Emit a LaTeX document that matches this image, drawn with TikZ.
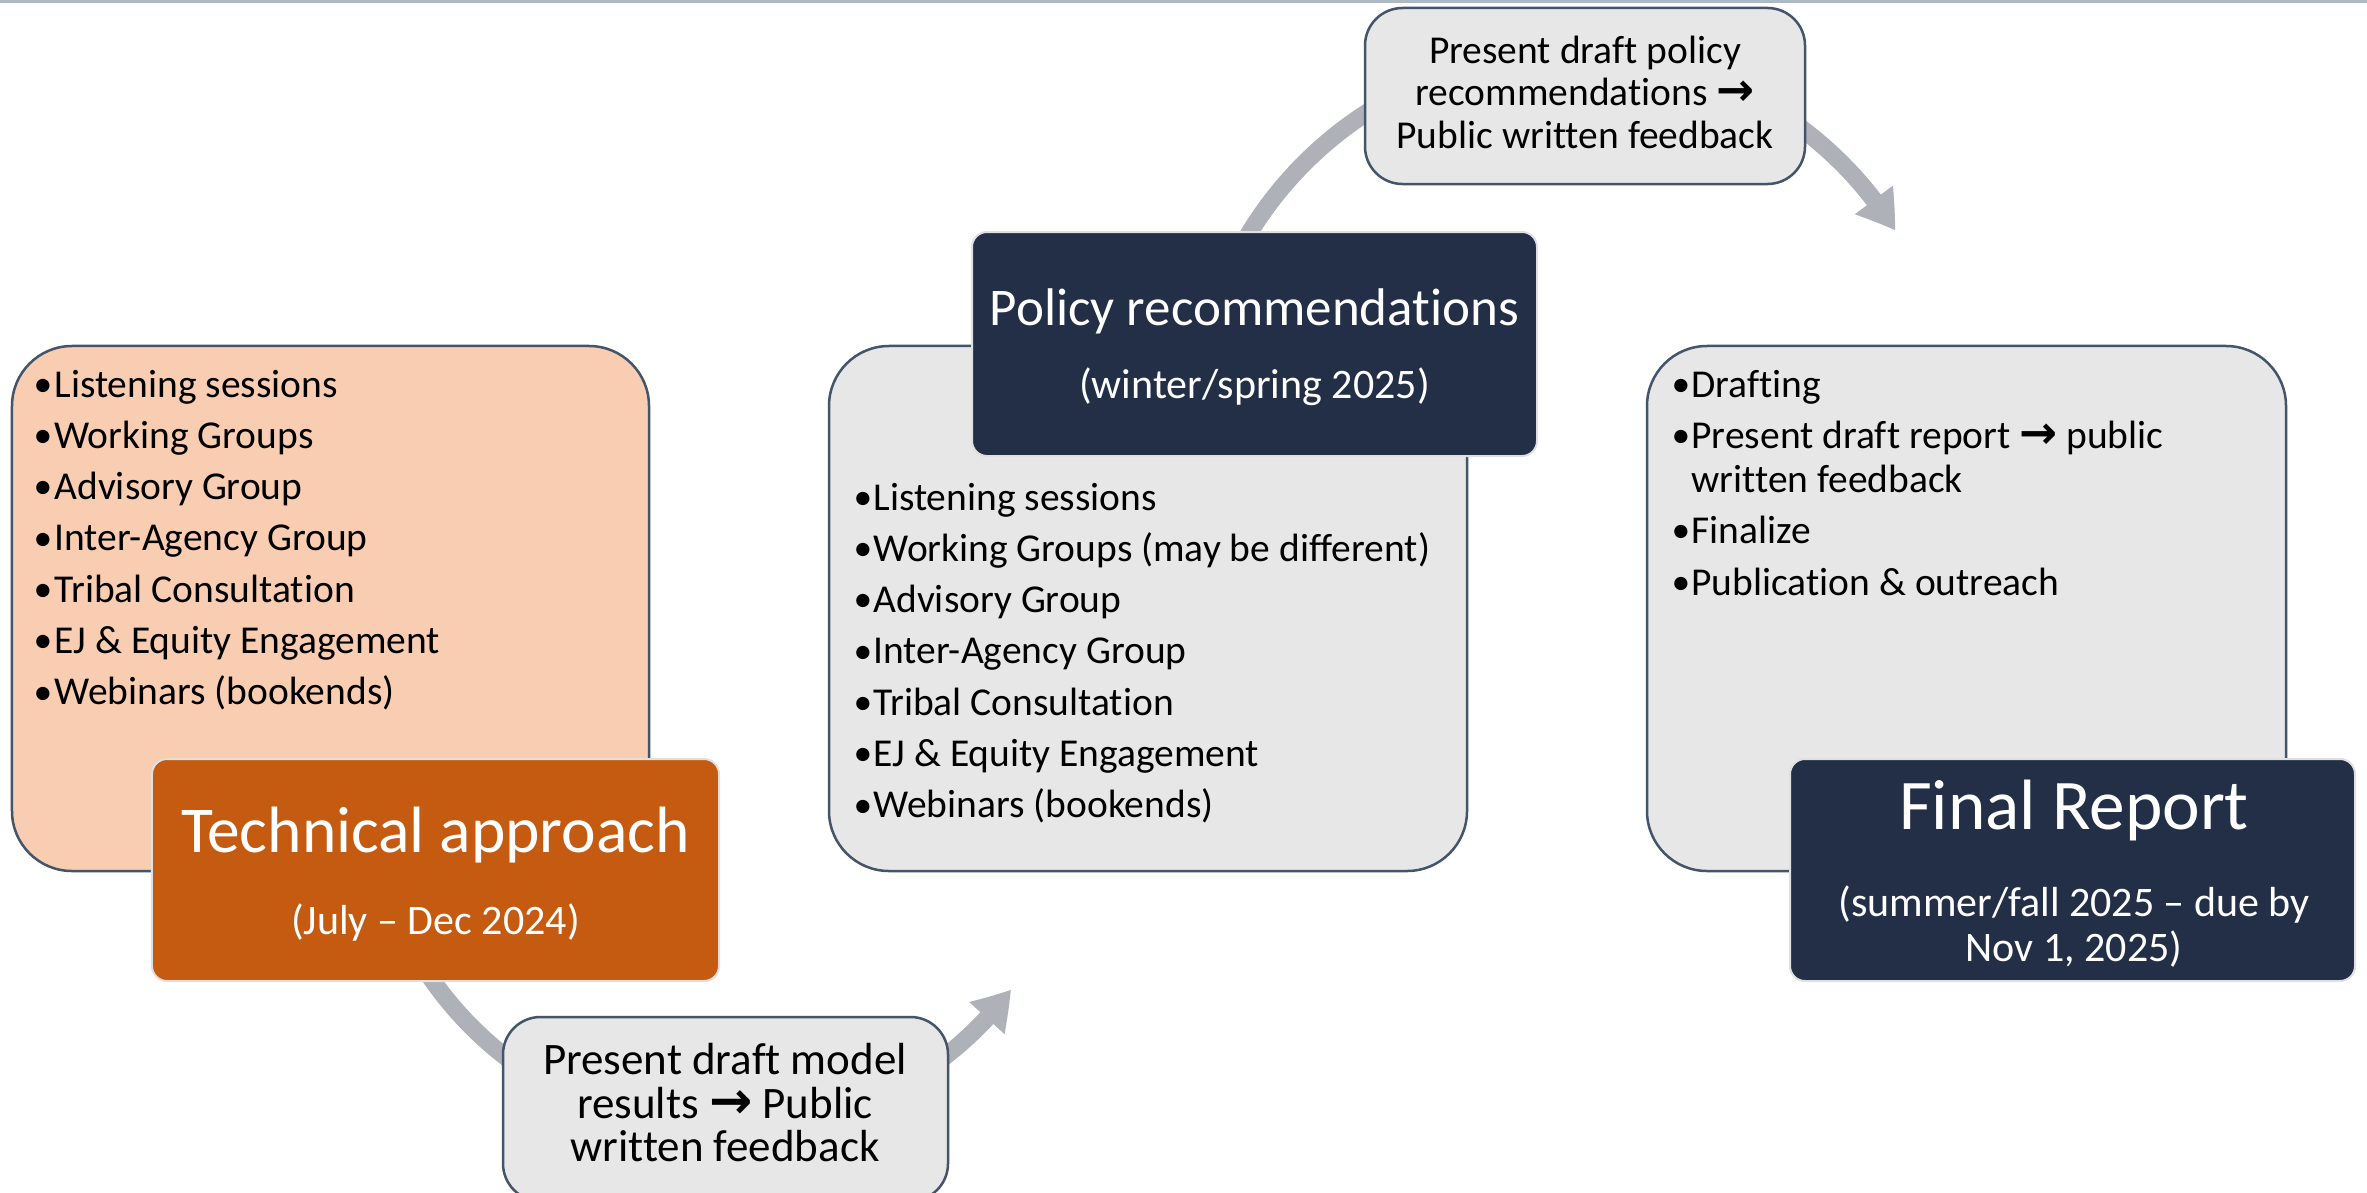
\documentclass[tikz,border=0pt]{standalone}
\usepackage{fontspec}
\setmainfont{Carlito}[Ligatures={NoCommon}]
\newfontfamily\arrowfont{DejaVu Sans}
\usetikzlibrary{arrows.meta,calc,bending}
\definecolor{peach}{HTML}{F8CDB1}
\definecolor{burnt}{HTML}{C55A11}
\definecolor{navy}{HTML}{222F47}
\definecolor{lgray}{HTML}{E7E7E7}
\definecolor{edge}{HTML}{44546A}
\definecolor{arrowgray}{HTML}{AEB1B8}
\definecolor{topline}{HTML}{ADB9C4}
\newcommand{\rarr}{{\arrowfont\bfseries\fontsize{1.15em}{1em}\selectfont →}}
\newcommand{\smallbul}{\raisebox{0.3pt}{\fontsize{15pt}{15pt}\selectfont\textbullet}}
\newcommand{\bulA}{\makebox[8.4pt][l]{\smallbul}}
\newcommand{\bulB}{\makebox[8pt][l]{\smallbul}}
\tikzset{
 bigbox/.style={draw=edge, line width=1pt, rounded corners=24pt, inner sep=0pt, outer sep=0pt},
 darkbox/.style={draw=white!88!black, line width=0.8pt, rounded corners=6pt, inner sep=0pt, outer sep=0pt},
 fbbox/.style={draw=edge, fill=lgray, line width=1pt, rounded corners=15pt, inner sep=0pt, outer sep=0pt},
 txt/.style={anchor=base west, inner sep=0pt, font=\fontsize{15.8pt}{19pt}\selectfont},
 ctxt/.style={anchor=base, inner sep=0pt},
 wtxt/.style={anchor=base, inner sep=0pt, text=white},
 flow/.style={draw=arrowgray, line width=7pt, -{Triangle[width=18pt,length=15pt,bend]}},
}
\begin{document}
\begin{tikzpicture}[x=0.4pt,y=-0.4pt]
\clip (0,0) rectangle (2367,1193);
\fill[white] (0,0) rectangle (2367,1193);
\fill[topline] (0,0) rectangle (2367,3);

% flow arrows (behind boxes)
\coordinate (bstart) at ($(725,774)+(146:358)$);
\coordinate (tstart) at ($(1573,432)+(210:380)$);
\draw[flow] (bstart) arc[start angle=146, end angle=37, radius=358];
\draw[flow] (tstart) arc[start angle=210, end angle=328, radius=380];

% left stage
\node[bigbox, fill=peach, minimum width=254.8pt, minimum height=210pt] (peachbox) at (330.5,608.5) {};
\foreach \t [count=\i] in {Listening sessions, Working Groups, Advisory Group, Inter-Agency Group, Tribal Consultation, EJ \& Equity Engagement, Webinars (bookends)}
  \node[txt] (la\i) at ({33},{397+51.3*(\i-1)}) {\bulA\t};
\node[darkbox, fill=burnt, minimum width=226.8pt, minimum height=88.8pt] (tech) at (435.5,870) {};
\node[wtxt, font=\fontsize{26.2pt}{30pt}\selectfont] (techt) at (435.5,852) {Technical approach};
\node[wtxt, font=\fontsize{16.8pt}{20pt}\selectfont] (techd) at (435.5,934) {(July \textendash{} Dec 2024)};

% middle stage
\node[bigbox, fill=lgray, minimum width=255.2pt, minimum height=210pt] (midbox) at (1148,608.5) {};
\foreach \t [count=\i] in {Listening sessions, Working Groups (may be different), Advisory Group, Inter-Agency Group, Tribal Consultation, EJ \& Equity Engagement, Webinars (bookends)}
  \node[txt] (lb\i) at ({853},{510+51.3*(\i-1)}) {\bulB\t};
\node[darkbox, fill=navy, minimum width=226pt, minimum height=89.6pt] (policy) at (1254.5,344) {};
\node[wtxt, font=\fontsize{21.2pt}{25pt}\selectfont] (policyt) at (1254.5,325) {Policy recommendations};
\node[wtxt, font=\fontsize{16.8pt}{20pt}\selectfont] (policyd) at (1254.5,398) {(winter/spring 2025)};

% right stage
\node[bigbox, fill=lgray, minimum width=255.6pt, minimum height=210pt] (rightbox) at (1966.5,608.5) {};
\node[txt] (lc1) at (1671,397) {\bulB Drafting};
\node[txt] (lc2) at (1671,448) {\bulB Present draft report \rarr{} public};
\node[txt] (lc3) at (1691,492) {written feedback};
\node[txt] (lc4) at (1671,543) {\bulB Finalize};
\node[txt] (lc5) at (1671,595) {\bulB Publication \& outreach};
\node[darkbox, fill=navy, minimum width=226pt, minimum height=88.8pt] (final) at (2072.5,870) {};
\node[wtxt, font=\fontsize{28.5pt}{32pt}\selectfont] (finalt) at (2074,829) {Final Report};
\node[wtxt, font=\fontsize{16.8pt}{20pt}\selectfont] (finald1) at (2074,916) {(summer/fall 2025 \textendash{} due by};
\node[wtxt, font=\fontsize{16.8pt}{20pt}\selectfont] (finald2) at (2074,961) {Nov 1, 2025)};

% feedback boxes
\node[fbbox, minimum width=176pt, minimum height=70.4pt] (topfb) at (1585,96) {};
\node[ctxt, font=\fontsize{15.8pt}{19pt}\selectfont] (tf1) at (1585,63) {Present draft policy};
\node[ctxt, font=\fontsize{15.8pt}{19pt}\selectfont] (tf2) at (1585,106) {recommendations \rarr};
\node[ctxt, font=\fontsize{15.8pt}{19pt}\selectfont] (tf3) at (1585,148) {Public written feedback};

\node[fbbox, minimum width=178pt, minimum height=73.6pt] (botfb) at (725.5,1109) {};
\node[ctxt, font=\fontsize{18pt}{21pt}\selectfont] (bf1) at (725,1074) {Present draft model};
\node[ctxt, font=\fontsize{18pt}{21pt}\selectfont] (bf2) at (725,1118) {results \rarr{} Public};
\node[ctxt, font=\fontsize{18pt}{21pt}\selectfont] (bf3) at (725,1161) {written feedback};
\end{tikzpicture}
\end{document}
